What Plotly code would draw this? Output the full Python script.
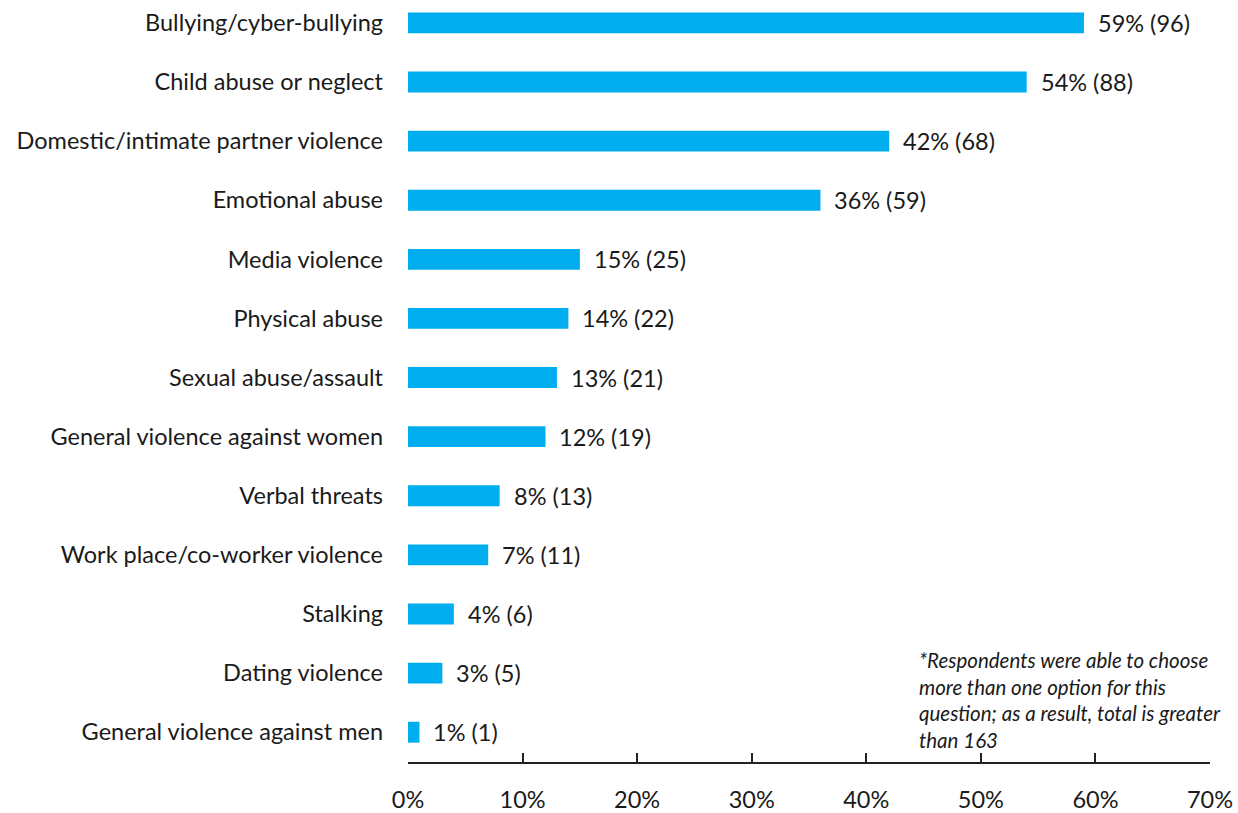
import plotly.graph_objects as go

# Survey responses (respondents could pick several options)
categories = [
    "Bullying/cyber-bullying",
    "Child abuse or neglect",
    "Domestic/intimate partner violence",
    "Emotional abuse",
    "Media violence",
    "Physical abuse",
    "Sexual abuse/assault",
    "General violence against women",
    "Verbal threats",
    "Work place/co-worker violence",
    "Stalking",
    "Dating violence",
    "General violence against men",
]
percents = [59, 54, 42, 36, 15, 14, 13, 12, 8, 7, 4, 3, 1]
counts = [96, 88, 68, 59, 25, 22, 21, 19, 13, 11, 6, 5, 1]
x_ticks = [0, 10, 20, 30, 40, 50, 60, 70]

FONT = "Lato"
BAR_COLOR = "#00AEEF"
TEXT_COLOR = "#1a1a1a"

fig = go.Figure(
    go.Bar(
        x=percents,
        y=categories,
        orientation="h",
        marker=dict(color=BAR_COLOR, line=dict(width=0)),
        hoverinfo="skip",
    )
)

# value labels to the right of each bar
for cat, p, c in zip(categories, percents, counts):
    fig.add_annotation(
        x=p, y=cat, xref="x", yref="y",
        text=f"{p}% ({c})",
        showarrow=False, xanchor="left", yanchor="middle",
        xshift=12,
        font=dict(family=FONT, size=23.5, color=TEXT_COLOR),
    )

fig.add_annotation(
    x=44.4, y=0.152, xref="x", yref="paper",
    text="<i>*Respondents were able to choose<br>more than one option for this<br>"
         "question; as a result, total is greater<br>than 163</i>",
    showarrow=False, xanchor="left", yanchor="top", align="left",
    font=dict(family=FONT, size=20.5, color=TEXT_COLOR),
)

fig.update_layout(
    width=1238, height=813,
    margin=dict(l=408, r=28, t=0, b=46),
    paper_bgcolor="white", plot_bgcolor="white",
    bargap=0.647,
    showlegend=False,
    font=dict(family=FONT, color=TEXT_COLOR),
)

fig.update_xaxes(
    range=[0, 70],
    tickvals=x_ticks,
    ticktext=[f"{v}%" for v in x_ticks],
    ticks="inside", ticklen=9, tickwidth=1.5, tickcolor="#222",
    showline=True, linecolor="#222", linewidth=1.5,
    showgrid=False, zeroline=False,
    tickfont=dict(family=FONT, size=23.5, color=TEXT_COLOR),
    ticklabelstandoff=16,
)

fig.update_yaxes(
    type="category",
    categoryorder="array", categoryarray=categories,
    range=[12.504, -0.387],
    showline=False, showgrid=False, zeroline=False, ticks="",
    tickfont=dict(family=FONT, size=23.5, color=TEXT_COLOR),
    ticklabelstandoff=24,
)

fig.write_html("out.html")
